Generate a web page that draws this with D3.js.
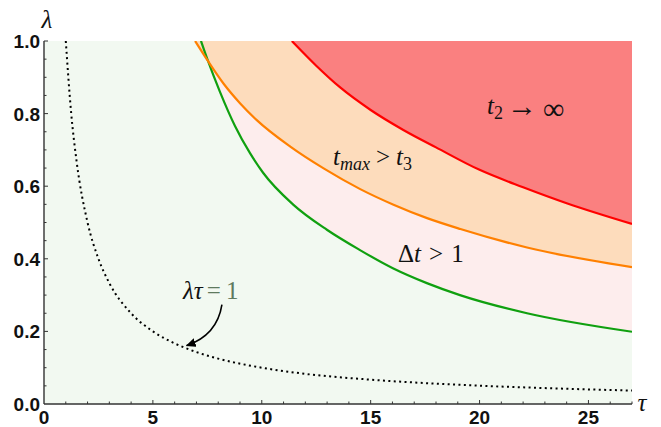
<!DOCTYPE html>
<html>
<head>
<meta charset="utf-8">
<script src="https://cdn.jsdelivr.net/npm/d3@7"></script>
<style>
  body { margin:0; background:#fff; }
  svg { display:block; }
  .tick-lbl { font-family:"Liberation Sans", Arial, sans-serif; font-weight:bold; font-size:19px; fill:#111; }
  .math { font-family:"Liberation Serif", "Times New Roman", serif; font-size:25px; fill:#111; }
</style>
</head>
<body>
<svg id="chart"></svg>
<script>
const W = 661, H = 427;

// Boundary curves: [tau, lambda]
const redTau    = [11.38, 12.5, 13.6, 15.0, 16.5, 18.0, 20.0, 22.0, 24.0, 27.0];
const redLam    = [1.0,   0.932, 0.872, 0.810, 0.755, 0.707, 0.645, 0.597, 0.553, 0.496];
const orangeTau = [6.94, 7.55, 8.24, 9.01, 9.77, 11.31, 12.84, 14.52, 16.05, 17.59, 19.12, 22.18, 27.0];
const orangeLam = [1.0, 0.943, 0.883, 0.828, 0.782, 0.709, 0.649, 0.592, 0.549, 0.512, 0.482, 0.431, 0.377];
const greenTau  = [7.21, 7.53, 8.08, 8.77, 9.46, 10.06, 11.43, 12.99, 14.51, 16.02, 17.58, 19.10, 22.18, 27.0];
const greenLam  = [1.0, 0.945, 0.860, 0.766, 0.691, 0.637, 0.550, 0.480, 0.424, 0.374, 0.333, 0.300, 0.250, 0.199];
// lambda*tau = 1 dotted reference
const dotTau = [1, 1.25, 1.5, 2, 2.5, 3, 4, 5, 6, 7, 8, 10, 12, 15, 18, 21, 24, 27];
const dotLam = [1, 0.8, 0.667, 0.5, 0.4, 0.333, 0.25, 0.2, 0.167, 0.143, 0.125, 0.1, 0.083, 0.067, 0.056, 0.048, 0.042, 0.037];

const xTicks = [0, 5, 10, 15, 20, 25];
const yTicks = [0.0, 0.2, 0.4, 0.6, 0.8, 1.0];

const x = d3.scaleLinear().domain([0, 27]).range([44, 632]);
const y = d3.scaleLinear().domain([0, 1]).range([404, 41]);

const svg = d3.select('#chart').attr('width', W).attr('height', H);
const defs = svg.append('defs');
defs.append('clipPath').attr('id', 'plot')
  .append('rect').attr('x', x(0)).attr('y', y(1)).attr('width', x(27) - x(0)).attr('height', y(0) - y(1));
defs.append('marker').attr('id', 'ah')
  .attr('viewBox', '0 -5 10 10').attr('refX', 9).attr('refY', 0)
  .attr('markerWidth', 10).attr('markerHeight', 10).attr('markerUnits', 'userSpaceOnUse')
  .attr('orient', 'auto')
  .append('path').attr('d', 'M0,-4.5L10,0L0,4.5Z').attr('fill', '#000');

const zip = (a, b) => a.map((v, i) => [v, b[i]]);
const red = zip(redTau, redLam), orange = zip(orangeTau, orangeLam),
      green = zip(greenTau, greenLam), dots = zip(dotTau, dotLam);

const g = svg.append('g').attr('clip-path', 'url(#plot)');

// background region
g.append('rect').attr('x', x(0)).attr('y', y(1)).attr('width', x(27) - x(0)).attr('height', y(0) - y(1))
  .attr('fill', '#f2f9f1');

const above = d3.area().x(d => x(d[0])).y0(y(1)).y1(d => y(d[1])).curve(d3.curveMonotoneX);
const line = d3.line().x(d => x(d[0])).y(d => y(d[1])).curve(d3.curveMonotoneX);

g.append('path').datum(green).attr('d', above).attr('fill', '#fdeded');
g.append('path').datum(orange).attr('d', above).attr('fill', '#fddcbc');
g.append('path').datum(red).attr('d', above).attr('fill', '#fa8080');

g.append('path').datum(dots).attr('d', line).attr('fill', 'none')
  .attr('stroke', '#000').attr('stroke-width', 2).attr('stroke-dasharray', '2,3.4');
g.append('path').datum(green).attr('d', line).attr('fill', 'none').attr('stroke', '#10a010').attr('stroke-width', 2.2);
g.append('path').datum(orange).attr('d', line).attr('fill', 'none').attr('stroke', '#ff8000').attr('stroke-width', 2.2);
g.append('path').datum(red).attr('d', line).attr('fill', 'none').attr('stroke', '#ff0000').attr('stroke-width', 2.2);

// axes
const axX = svg.append('g').attr('transform', `translate(0,${y(0)})`);
axX.append('line').attr('x1', x(0)).attr('x2', x(27)).attr('stroke', '#333').attr('stroke-width', 1.4);
axX.selectAll('.mn').data(d3.range(1, 28)).join('line')
  .attr('x1', d => x(d)).attr('x2', d => x(d)).attr('y1', 0).attr('y2', d => d % 5 === 0 ? -4 : -2.5)
  .attr('stroke', '#333').attr('stroke-width', 1);
axX.selectAll('text').data(xTicks).join('text').attr('class', 'tick-lbl')
  .attr('x', d => x(d)).attr('y', 20).attr('text-anchor', 'middle').text(d => d);

const axY = svg.append('g').attr('transform', `translate(${x(0)},0)`);
axY.append('line').attr('y1', y(0)).attr('y2', y(1)).attr('stroke', '#333').attr('stroke-width', 1.4);
axY.selectAll('.mn').data(d3.range(1, 21).map(i => i / 20)).join('line')
  .attr('y1', d => y(d)).attr('y2', d => y(d)).attr('x1', 0)
  .attr('x2', (d, i) => (i + 1) % 4 === 0 ? 4 : 2.5)
  .attr('stroke', '#333').attr('stroke-width', 1);
axY.selectAll('text').data(yTicks).join('text').attr('class', 'tick-lbl')
  .attr('x', -4).attr('y', d => y(d) + 7).attr('text-anchor', 'end').text(d => d.toFixed(1));

svg.append('text').attr('class', 'math').attr('x', 47).attr('y', 28).attr('text-anchor', 'middle')
  .style('font-style', 'italic').text('λ');
svg.append('text').attr('class', 'math').attr('x', 642).attr('y', 411).attr('text-anchor', 'middle')
  .style('font-style', 'italic').text('τ');

// region labels
function label(px, py, parts) {
  const t = svg.append('text').attr('class', 'math').attr('x', px).attr('y', py);
  parts.forEach(p => {
    const s = t.append('tspan').text(p.t);
    if (p.i) s.style('font-style', 'italic');
    if (p.sub) s.attr('dy', 5).style('font-size', '18px');
    if (p.up) s.attr('dy', p.up);
    if (p.dx) s.attr('dx', p.dx);
    if (p.size) s.style('font-size', p.size + 'px');
    if (p.fill) s.attr('fill', p.fill);
  });
}
label(487, 114, [{t:'t', i:1}, {t:'2', sub:1}, {t:'→', up:-3, dx:4, size:30}, {t:'∞', up:3, dx:6, size:30}]);
label(333, 165, [{t:'t', i:1}, {t:'max', i:1, sub:1}, {t:'>', up:-5, dx:6}, {t:'t', i:1, dx:6}, {t:'3', sub:1}]);
label(398, 262, [{t:'Δ'}, {t:'t', i:1}, {t:'>', dx:8}, {t:'1', dx:8}]);
label(183, 299, [{t:'λτ', i:1}, {t:'=', dx:4, fill:'#5e7a5e'}, {t:'1', dx:5, fill:'#5e7a5e'}]);

// arrow to the dotted curve
const arrowPts = [[8.17, 0.274], [7.95, 0.19], [6.55, 0.161]];
const ap = d3.path();
ap.moveTo(x(arrowPts[0][0]), y(arrowPts[0][1]));
ap.quadraticCurveTo(x(arrowPts[1][0]), y(arrowPts[1][1]), x(arrowPts[2][0]), y(arrowPts[2][1]));
svg.append('path').attr('d', ap.toString()).attr('fill', 'none').attr('stroke', '#000')
  .attr('stroke-width', 1.6).attr('marker-end', 'url(#ah)');
</script>
</body>
</html>
